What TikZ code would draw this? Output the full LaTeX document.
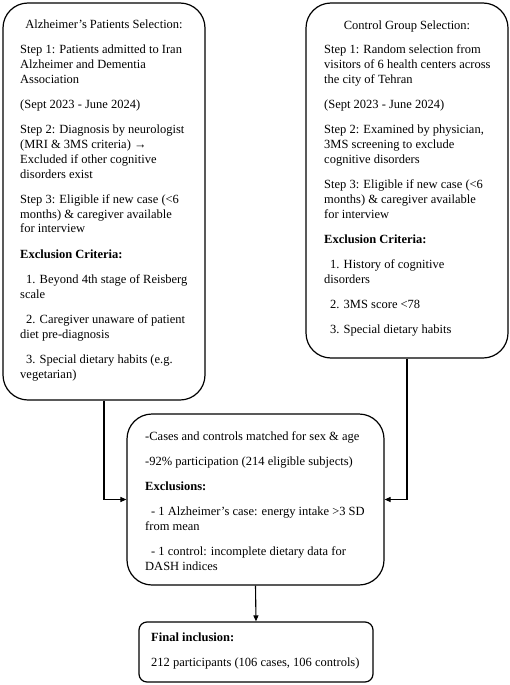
\documentclass[tikz,border=0pt]{standalone}
\usepackage{fontspec}
\setmainfont{Liberation Serif}
\usetikzlibrary{arrows.meta}
\newcommand{\bodyfont}{\fontsize{12.5}{15}\selectfont}
\newcommand{\ind}{\hspace*{6pt}}
\newcommand{\boxtext}[1]{\parbox[t]{260pt}{\setlength{\parskip}{10pt}\raggedright #1}}
\begin{document}
\begin{tikzpicture}[x=1pt,y=-1pt,
  box/.style={draw, line width=1.2pt, rounded corners=25pt, inner sep=0pt},
  txt/.style={anchor=base west, inner sep=0pt, font=\bodyfont},
  ttl/.style={anchor=base, inner sep=0pt, font=\bodyfont},
  conn/.style={draw, line width=1.1pt, -{Triangle[length=6pt,width=5pt]}}
]
\useasboundingbox (0,0) rectangle (510,685);
% boxes
\node[box, minimum width=202pt, minimum height=397pt] (alz) at (104,201.5) {};
\node[box, minimum width=202pt, minimum height=355pt] (ctl) at (407,180.5) {};
\node[box, minimum width=257pt, minimum height=171pt] (mid) at (255.5,499.5) {};
\node[box, rounded corners=8pt, minimum width=234pt, minimum height=60pt] (fin) at (256,652) {};
% titles
\node[ttl] (alzt) at (104,29) {Alzheimer’s Patients Selection:};
\node[ttl] (ctlt) at (407,30) {Control Group Selection:};
% texts
\node[txt] (alzb) at (20,53) {\boxtext{%
Step 1: Patients admitted to Iran\\ Alzheimer and Dementia\\ Association\par
(Sept 2023 - June 2024)\par
Step 2: Diagnosis by neurologist\\ (MRI \& 3MS criteria) →\\ Excluded if other cognitive\\ disorders exist\par
Step 3: Eligible if new case (<6\\ months) \& caregiver available\\ for interview\par
\textbf{Exclusion Criteria:}\par
\ind 1. Beyond 4th stage of Reisberg\\ scale\par
\ind 2. Caregiver unaware of patient\\ diet pre-diagnosis\par
\ind 3. Special dietary habits (e.g.\\ vegetarian)}};
\node[txt] (ctlb) at (324,53) {\boxtext{%
Step 1: Random selection from\\ visitors of 6 health centers across\\ the city of Tehran\par
(Sept 2023 - June 2024)\par
Step 2: Examined by physician,\\ 3MS screening to exclude\\ cognitive disorders\par
Step 3: Eligible if new case (<6\\ months) \& caregiver available\\ for interview\par
\textbf{Exclusion Criteria:}\par
\ind 1. History of cognitive\\ disorders\par
\ind 2. 3MS score <78\par
\ind 3. Special dietary habits}};
\node[txt] (midb) at (145,440) {\boxtext{%
-Cases and controls matched for sex \& age\par
-92\% participation (214 eligible subjects)\par
\textbf{Exclusions:}\par
\ind - 1 Alzheimer’s case: energy intake >3 SD\\ from mean\par
\ind - 1 control: incomplete dietary data for\\ DASH indices}};
\node[txt] (finb) at (151,641) {\boxtext{%
\textbf{Final inclusion:}\par
212 participants (106 cases, 106 controls)}};
% connectors
\draw[conn] (alz.south) |- (mid.west);
\draw[conn] (ctl.south) |- (mid.east);
\draw[conn] (mid.south) -- (fin.north);
\end{tikzpicture}
\end{document}
